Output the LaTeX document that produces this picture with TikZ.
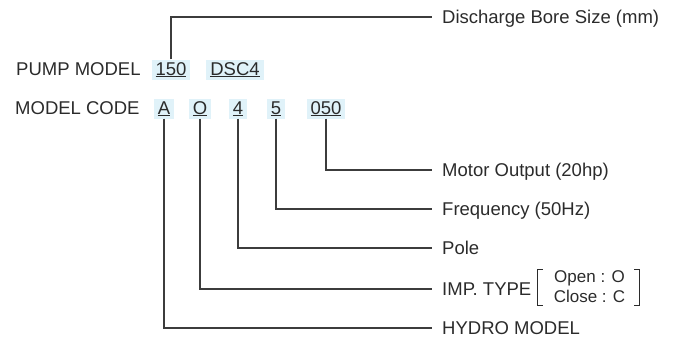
\documentclass[tikz,border=0pt]{standalone}
\usepackage{fontspec}
\setmainfont{Liberation Sans}
\definecolor{ink}{HTML}{2B2B2B}
\definecolor{wirec}{HTML}{3C3C3C}
\definecolor{hl}{HTML}{E0F2F9}
\begin{document}
\begin{tikzpicture}[x=1pt,y=-1pt,
  every node/.style={font=\fontsize{18.5}{22}\selectfont, text=ink, inner sep=0pt},
  code/.style={fill=hl, inner xsep=4pt, inner ysep=1.5pt, text height=14pt, text depth=3pt, anchor=base},
  lab/.style={anchor=west, text height=13.3pt, text depth=0pt},
  wire/.style={draw=wirec, line width=1.1pt},
  brk/.style={draw=ink, line width=1.1pt}]
\useasboundingbox (0,0) rectangle (675,340);

% row 1
\node[anchor=base west] (pm) at (16,75) {PUMP MODEL};
\node[code] (n150) at (171,75) {\underline{150}};
\node[code] (dsc) at (235,75) {\underline{DSC4}};

% row 2
\node[anchor=base west] (mc) at (15,114) {MODEL CODE};
\node[code] (cA) at (164,114) {\underline{A}};
\node[code] (cO) at (200,114) {\underline{O}};
\node[code] (c4) at (238,114) {\underline{4}};
\node[code] (c5) at (276,114) {\underline{5}};
\node[code] (c050) at (326,114) {\underline{050}};

% labels
\node[lab] (dis) at (442,17) {Discharge Bore Size (mm)};
\node[lab] (mot) at (442,170) {Motor Output (20hp)};
\node[lab] (freq) at (442,209) {Frequency (50Hz)};
\node[lab] (pole) at (442,248) {Pole};
\node[lab] (imp) at (442,289) {IMP. TYPE};
\node[lab] (hyd) at (442,328) {HYDRO MODEL};
\node[font=\fontsize{17}{20}\selectfont, align=center] (opts) at (589.5,287) {Open : O\\Close : C};

% brackets
\draw[brk] ([shift={(-11,-1)}]opts.north west) -- ++(-5,0) -- ([shift={(-16,2)}]opts.south west) -- ++(5,0);
\draw[brk] ([shift={(9,-1)}]opts.north east) -- ++(5,0) -- ([shift={(14,2)}]opts.south east) -- ++(-5,0);

% connectors
\draw[wire] (n150.north) |- ([xshift=-10pt]dis.west);
\draw[wire] (c050.south) |- ([xshift=-10pt]mot.west);
\draw[wire] (c5.south) |- ([xshift=-10pt]freq.west);
\draw[wire] (c4.south) |- ([xshift=-10pt]pole.west);
\draw[wire] (cO.south) |- ([xshift=-10pt]imp.west);
\draw[wire] (cA.south) |- ([xshift=-10pt]hyd.west);
\end{tikzpicture}
\end{document}
